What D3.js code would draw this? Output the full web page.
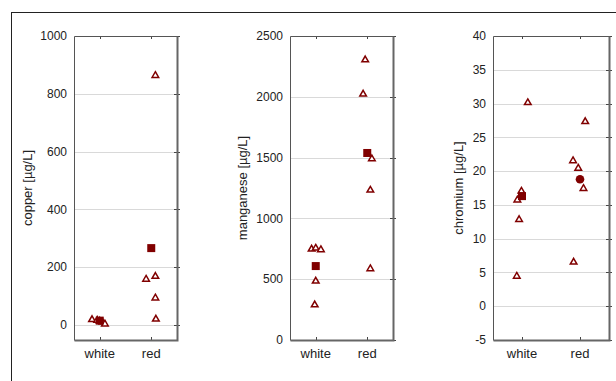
<!DOCTYPE html>
<html>
<head>
<meta charset="utf-8">
<script src="https://cdn.jsdelivr.net/npm/d3@7"></script>
<style>
  html, body { margin: 0; padding: 0; background: #fff; }
  svg { display: block; }
</style>
</head>
<body>
<div id="chart"></div>
<script>
// categories along x
const categories = ["white", "red"];

// copper [µg/L]
const copperWhite = [20, 18, 15, 12, 5];
const copperRed = [160, 170, 95, 22, 865];
const copperMeans = [15, 266];
const copperTicks = [0, 200, 400, 600, 800, 1000];

// manganese [µg/L]
const manganeseWhite = [751, 759, 746, 488, 293];
const manganeseRed = [2308, 2026, 1494, 1236, 590];
const manganeseMeans = [608, 1538];
const manganeseTicks = [0, 500, 1000, 1500, 2000, 2500];

// chromium [µg/L]
const chromiumWhite = [4.5, 12.9, 15.8, 17.1, 30.2];
const chromiumRed = [21.6, 20.5, 17.5, 27.4, 6.6];
const chromiumMeans = [16.3, 18.8];
const chromiumTicks = [-5, 0, 5, 10, 15, 20, 25, 30, 35, 40];

// horizontal jitter of the individual samples (category units)
const copperJitterWhite = [-0.15, -0.05, 0.0, 0.05, 0.1];
const copperJitterRed = [-0.1, 0.08, 0.08, 0.09, 0.08];
const manganeseJitterWhite = [-0.08, 0.0, 0.1, 0.0, -0.02];
const manganeseJitterRed = [-0.04, -0.08, 0.09, 0.06, 0.06];
const chromiumJitterWhite = [-0.09, -0.05, -0.08, -0.01, 0.1];
const chromiumJitterRed = [-0.12, -0.03, 0.06, 0.09, -0.11];
const meanShapes = [["square", "square"], ["square", "square"], ["square", "circle"]];

const W = 616, H = 381;
const FONT = "'Liberation Sans', Arial, sans-serif";
const DARK_RED = "#800000";

const panels = [
    { label: "copper [µg/L]", white: copperWhite, red: copperRed, means: copperMeans,
      jw: copperJitterWhite, jr: copperJitterRed, ticks: copperTicks, domain: [-52, 1000],
      x0: 74, x1: 177, labelX: 27 },
    { label: "manganese [µg/L]", white: manganeseWhite, red: manganeseRed, means: manganeseMeans,
      jw: manganeseJitterWhite, jr: manganeseJitterRed, ticks: manganeseTicks, domain: [0, 2500],
      x0: 290, x1: 393, labelX: 242 },
    { label: "chromium [µg/L]", white: chromiumWhite, red: chromiumRed, means: chromiumMeans,
      jw: chromiumJitterWhite, jr: chromiumJitterRed, ticks: chromiumTicks, domain: [-5, 40],
      x0: 493, x1: 609, labelX: 458 },
];

const svg = d3.select("#chart").append("svg")
    .attr("width", W).attr("height", H);

svg.append("rect").attr("width", W).attr("height", H).attr("fill", "#fff");

// outer frame (runs off the right and bottom edges)
svg.append("rect")
    .attr("x", 11.5).attr("y", 12.5)
    .attr("width", W + 10).attr("height", H + 10)
    .attr("fill", "none").attr("stroke", "#222").attr("stroke-width", 1);

const yTop = 36, yBottom = 340;
const tri = d3.symbol().type(d3.symbolTriangle).size(19);

panels.forEach((p, pi) => {
    const x = d3.scaleLinear().domain([0.5, 2.5]).range([p.x0, p.x1]);
    const y = d3.scaleLinear().domain(p.domain).range([yBottom, yTop]);
    const g = svg.append("g");

    // gridlines
    g.selectAll(".grid").data(p.ticks.filter(t => t > p.domain[0] && t < p.domain[1]))
        .enter().append("line")
        .attr("x1", p.x0).attr("x2", p.x1)
        .attr("y1", d => Math.round(y(d)) + 0.5).attr("y2", d => Math.round(y(d)) + 0.5)
        .attr("stroke", "#d9d9d9").attr("stroke-width", 1);

    // right-side tick marks
    g.selectAll(".rtick").data(p.ticks)
        .enter().append("line")
        .attr("x1", p.x1 - 3).attr("x2", p.x1 + 3)
        .attr("y1", d => Math.round(y(d)) + 0.5).attr("y2", d => Math.round(y(d)) + 0.5)
        .attr("stroke", "#444").attr("stroke-width", 1);

    // top / bottom tick marks at categories
    [1, 2].forEach(c => {
        const cx = Math.round(x(c)) + 0.5;
        g.append("line").attr("x1", cx).attr("x2", cx).attr("y1", yTop).attr("y2", yTop + 3)
            .attr("stroke", "#444");
        g.append("line").attr("x1", cx).attr("x2", cx).attr("y1", yBottom - 3).attr("y2", yBottom)
            .attr("stroke", "#444");
    });

    // plot box
    g.append("path")
        .attr("d", `M${p.x0 + 0.5},${yBottom + 0.5} V${yTop + 0.5} H${p.x1 + 0.5}`)
        .attr("fill", "none").attr("stroke", "#555").attr("stroke-width", 1);
    g.append("path")
        .attr("d", `M${p.x0 + 0.5},${yBottom + 0.5} H${p.x1 + 0.5} V${yTop + 0.5}`)
        .attr("fill", "none").attr("stroke", "#666").attr("stroke-width", 2);

    // y tick labels
    g.selectAll(".ylab").data(p.ticks)
        .enter().append("text")
        .attr("x", p.x0 - 7).attr("y", d => y(d))
        .attr("dy", "0.35em")
        .attr("text-anchor", "end")
        .attr("font-family", FONT).attr("font-size", "12px").attr("fill", "#222")
        .text(d => d);

    // x tick labels
    g.selectAll(".xlab").data(categories)
        .enter().append("text")
        .attr("x", (d, i) => x(i + 1)).attr("y", yBottom + 18)
        .attr("text-anchor", "middle")
        .attr("font-family", FONT).attr("font-size", "13px").attr("fill", "#222")
        .text(d => d);

    // y axis title
    g.append("text")
        .attr("transform", `translate(${p.labelX},${(yTop + yBottom) / 2}) rotate(-90)`)
        .attr("text-anchor", "middle")
        .attr("dy", "0.35em")
        .attr("font-family", FONT).attr("font-size", "13px").attr("fill", "#222")
        .text(p.label);

    // individual samples
    const pts = p.white.map((v, i) => ({ c: 1 + p.jw[i], v }))
        .concat(p.red.map((v, i) => ({ c: 2 + p.jr[i], v })));
    g.selectAll(".pt").data(pts)
        .enter().append("path")
        .attr("d", tri)
        .attr("transform", d => `translate(${x(d.c)},${y(d.v) + 0.5})`)
        .attr("fill", "#fff").attr("stroke", DARK_RED).attr("stroke-width", 1.5);

    // means
    p.means.forEach((m, i) => {
        const cx = x(i + 1), cy = y(m);
        if (meanShapes[pi][i] === "circle") {
            g.append("circle").attr("cx", cx).attr("cy", cy).attr("r", 4.3).attr("fill", DARK_RED);
        } else {
            g.append("rect").attr("x", cx - 4).attr("y", cy - 4).attr("width", 8).attr("height", 8)
                .attr("fill", DARK_RED);
        }
    });
});
</script>
</body>
</html>
